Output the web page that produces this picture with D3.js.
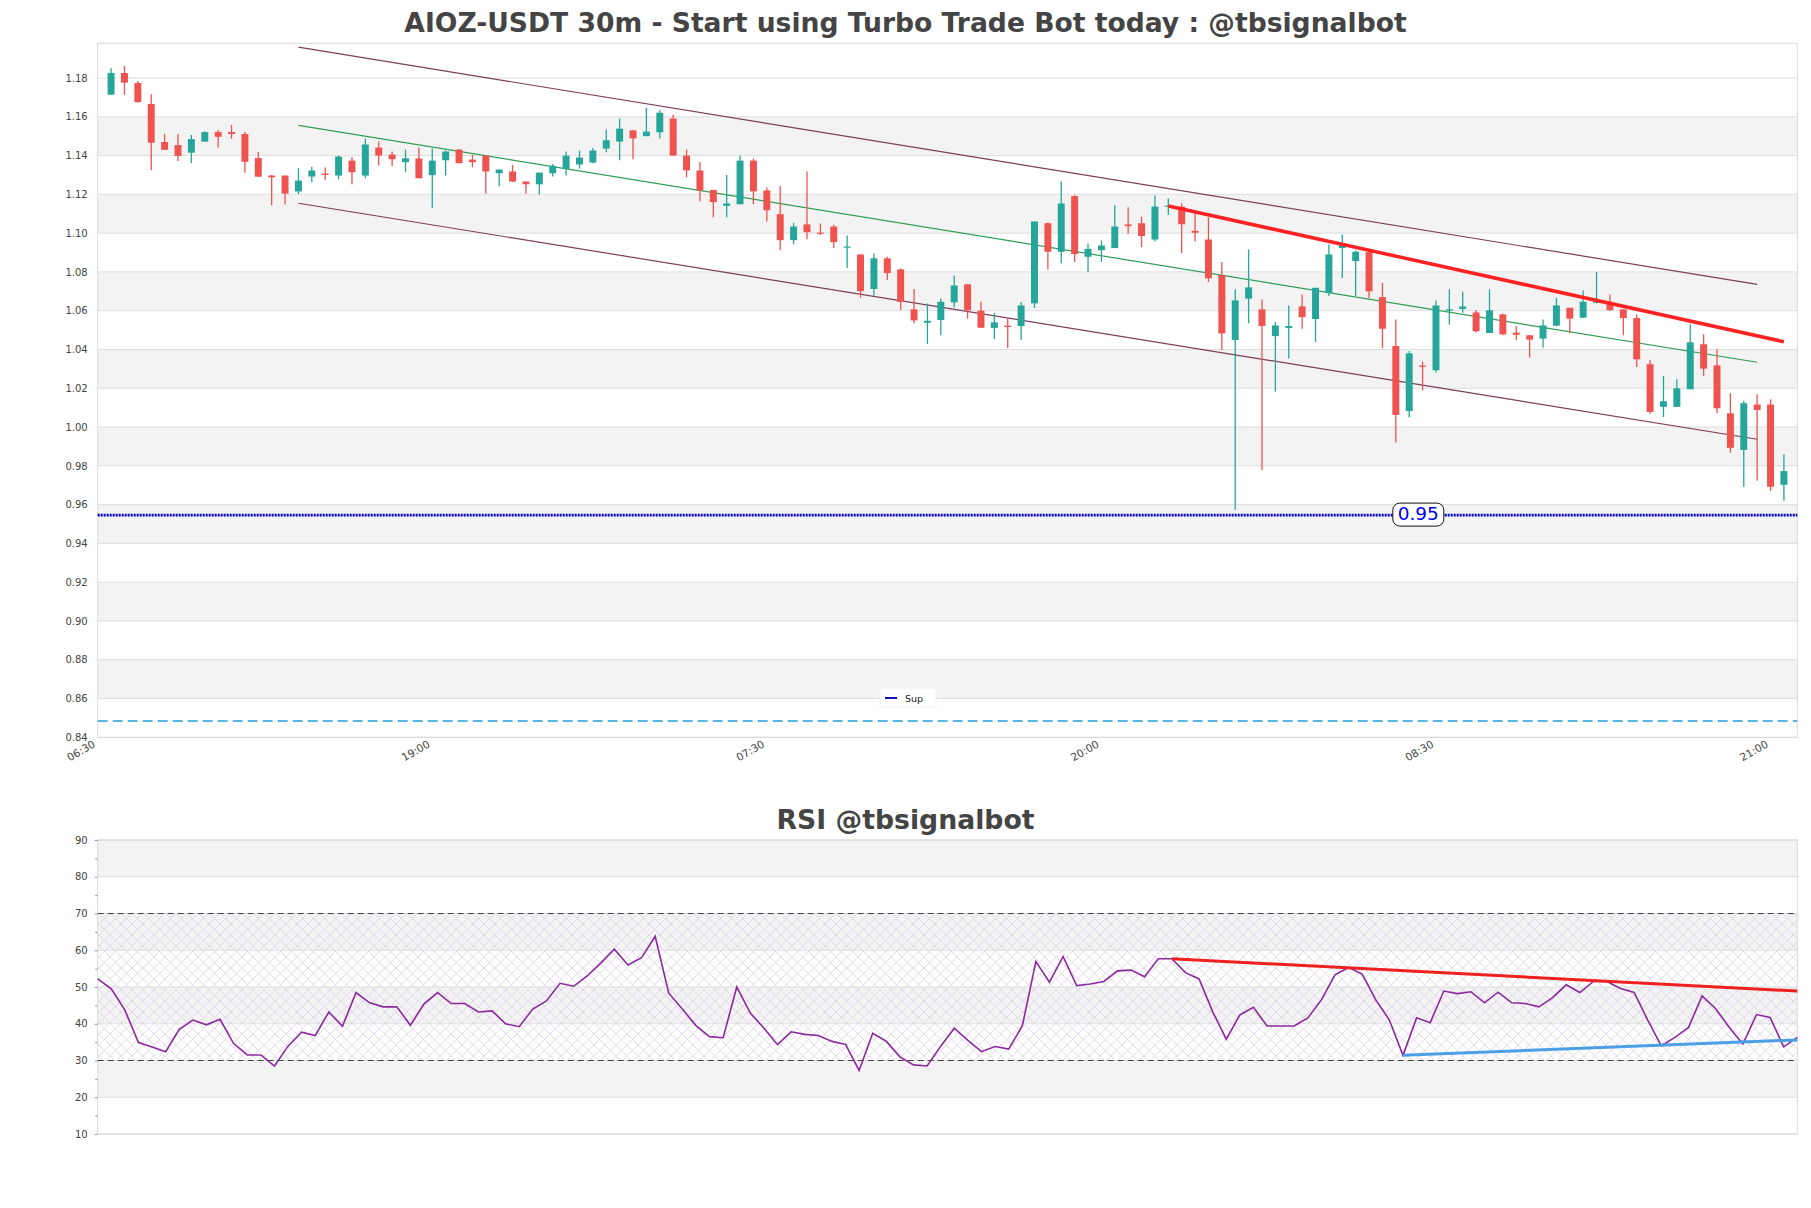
<!DOCTYPE html>
<html><head><meta charset="utf-8">
<script src="https://cdn.jsdelivr.net/npm/d3@7"></script>
<style>body{margin:0;background:#fff;} text{font-family:"DejaVu Sans",sans-serif;}</style>
</head><body><svg id="c" width="1811" height="1208"></svg>
<script>
// ---------- DATA ----------
const opens  = [1.1714,1.1826,1.1774,1.1666,1.147,1.1454,1.1415,1.1472,1.1521,1.1521,1.1511,1.1387,1.1297,1.1297,1.1215,1.1292,1.1307,1.1297,1.1374,1.1297,1.1441,1.1405,1.1366,1.1385,1.1299,1.1376,1.1431,1.1379,1.14,1.1309,1.1318,1.1266,1.1252,1.1309,1.1331,1.1354,1.1364,1.1436,1.1472,1.153,1.15,1.152,1.1591,1.14,1.1323,1.1223,1.1141,1.1149,1.1374,1.122,1.1098,1.0964,1.1045,1.1003,1.1034,1.0926,1.089,1.0712,1.087,1.0813,1.0607,1.0538,1.0552,1.0643,1.0736,1.06,1.0511,1.0523,1.0521,1.0638,1.1051,1.0904,1.1191,1.0878,1.0912,1.0923,1.1045,1.1051,1.0967,1.1136,1.1136,1.1012,1.0967,1.0784,1.0449,1.0662,1.0607,1.0469,1.0511,1.0622,1.0557,1.0691,1.0923,1.0856,1.0902,1.067,1.0418,1.0083,1.0317,1.0293,1.06,1.0609,1.0591,1.0485,1.0581,1.0487,1.0473,1.0456,1.0523,1.0615,1.0564,1.0641,1.0646,1.0607,1.0562,1.0324,1.0104,1.0104,1.0195,1.0427,1.0318,1.0071,0.9882,1.0116,1.0116,0.9702];
const highs  = [1.185,1.1862,1.1785,1.1716,1.1511,1.1511,1.1506,1.1525,1.1532,1.1558,1.1523,1.1418,1.130,1.1297,1.1335,1.1343,1.1338,1.14,1.1393,1.1488,1.1472,1.1421,1.1431,1.1441,1.1436,1.1426,1.1434,1.1405,1.14,1.1328,1.1352,1.1266,1.1312,1.1357,1.1421,1.1426,1.1439,1.1534,1.1591,1.153,1.1647,1.1635,1.1611,1.1431,1.1367,1.1223,1.13,1.14,1.1385,1.1235,1.1242,1.1053,1.1318,1.105,1.1043,1.0988,1.089,1.0895,1.0878,1.0818,1.0712,1.0637,1.0663,1.0782,1.0736,1.0646,1.059,1.0564,1.0645,1.106,1.1055,1.1266,1.1197,1.0947,1.0962,1.1144,1.1134,1.1086,1.1194,1.1179,1.1153,1.1106,1.1082,1.0851,1.071,1.0916,1.0658,1.0542,1.0627,1.0684,1.0718,1.0942,1.0993,1.0911,1.0916,1.0744,1.0555,1.0392,1.0337,1.0653,1.071,1.0698,1.0603,1.071,1.0586,1.0521,1.0476,1.0555,1.0667,1.0615,1.0706,1.08,1.0684,1.0607,1.0579,1.0346,1.0264,1.0246,1.053,1.0478,1.0401,1.0174,1.0135,1.0169,1.0143,0.986];
const lows   = [1.1714,1.1714,1.1673,1.1325,1.143,1.1372,1.1361,1.1472,1.1441,1.1487,1.1312,1.1291,1.1144,1.1148,1.1201,1.1263,1.1273,1.1278,1.1252,1.1283,1.1349,1.1345,1.1314,1.1283,1.1129,1.1297,1.1361,1.134,1.1204,1.1242,1.1263,1.1204,1.1199,1.1292,1.1297,1.1333,1.1361,1.1417,1.1376,1.1381,1.15,1.1488,1.14,1.1288,1.1165,1.1082,1.1082,1.1149,1.1149,1.106,1.0912,1.0943,1.0969,1.099,1.0923,1.082,1.0667,1.0677,1.0758,1.0603,1.0535,1.0428,1.0473,1.0617,1.0559,1.0512,1.0454,1.0408,1.0449,1.0614,1.0813,1.0845,1.0851,1.0799,1.0851,1.0923,1.0997,1.0928,1.0957,1.1093,1.0897,1.0957,1.0748,1.0397,0.9573,1.0535,0.9779,1.0183,1.0354,1.0507,1.0439,1.0676,1.0768,1.0676,1.0665,1.0408,0.992,1.0049,1.0188,1.0281,1.0528,1.059,1.0487,1.0485,1.0473,1.0449,1.0358,1.0409,1.0519,1.0482,1.0564,1.0638,1.0598,1.0473,1.031,1.0068,1.0051,1.0104,1.0195,1.0264,1.0071,0.9867,0.9692,0.9723,0.9671,0.962];
const closes = [1.1826,1.1776,1.1676,1.1466,1.143,1.1398,1.1485,1.1521,1.1497,1.1511,1.1368,1.1291,1.1288,1.1204,1.1271,1.1323,1.130,1.1395,1.1314,1.1457,1.14,1.1381,1.1386,1.1283,1.1374,1.1421,1.1361,1.1366,1.1318,1.1328,1.1266,1.1252,1.1312,1.1347,1.14,1.139,1.1426,1.1479,1.1539,1.1489,1.1524,1.1621,1.14,1.1324,1.1221,1.116,1.1153,1.1374,1.1215,1.1118,1.0964,1.1034,1.1005,1.0997,1.0954,1.0931,1.0701,1.087,1.0794,1.0645,1.055,1.0548,1.0646,1.073,1.0602,1.0512,1.054,1.0516,1.0627,1.106,1.0904,1.1153,1.0892,1.0919,1.0936,1.1034,1.1036,1.0985,1.1137,1.1142,1.1046,1.1002,1.0767,1.0483,1.0653,1.072,1.0521,1.0524,1.0521,1.0567,1.0718,1.089,1.0947,1.0904,1.07,1.0507,1.0063,1.038,1.0312,1.0627,1.0607,1.0622,1.0494,1.0602,1.0478,1.0476,1.0451,1.0524,1.0627,1.0559,1.0646,1.0655,1.0603,1.0562,1.0349,1.0078,1.0133,1.02,1.0437,1.0301,1.0097,0.9893,1.0123,1.0088,0.9692,0.9773];
const rsiValues = [52.2,49.5,43.7,34.9,33.7,32.4,38.5,41.0,39.7,41.2,34.6,31.5,31.5,28.5,33.9,37.7,36.8,43.2,39.3,48.5,45.7,44.6,44.6,39.6,45.4,48.5,45.5,45.5,43.2,43.5,40.0,39.2,44.0,46.2,51.0,50.2,53.0,56.5,60.3,56.0,58.0,63.8,48.3,44.0,39.5,36.5,36.2,50.0,42.9,38.8,34.3,37.8,37.1,36.8,35.2,34.4,27.3,37.4,35.2,31.0,28.8,28.5,33.9,38.8,35.5,32.4,33.8,33.1,39.4,56.9,51.3,58.3,50.4,50.8,51.5,54.4,54.6,52.8,57.7,57.7,53.9,52.2,43.3,35.8,42.4,44.5,39.4,39.4,39.4,41.6,46.5,53.3,55.3,53.5,46.5,41.0,31.4,41.6,40.3,48.9,48.2,48.7,45.7,48.6,45.7,45.5,44.6,47.1,50.6,48.5,51.5,51.5,49.6,48.5,41.0,34.0,36.3,39.0,47.6,44.1,39.0,34.5,42.5,41.7,33.7,36.3];
const timeLabels = ["06:30","19:00","07:30","20:00","08:30","21:00"];
const timeTickIdx = [-1,24,49,74,99,124];
const priceTicks = [0.84,0.86,0.88,0.90,0.92,0.94,0.96,0.98,1.00,1.02,1.04,1.06,1.08,1.10,1.12,1.14,1.16,1.18];
const rsiTicks = [10,20,30,40,50,60,70,80,90];
const rsiMinorTicks = [15,25,35,45,55,65,75,85];
const channelIdx = [14,123];
const channelUpper = [1.1959,1.0736];
const channelMid = [1.1556,1.0334];
const channelLower = [1.1154,0.9937];
const resistIdx = [79,125];
const resistVal = [1.114,1.044];
const supportVal = 0.9546;
const supportLabel = "0.95";
const lowerLevel = 0.8484;
const rsiResIdx = [79,125];
const rsiResVal = [57.7,48.9];
const rsiSupIdx = [96,125];
const rsiSupVal = [31.4,35.6];
const titleMain = "AIOZ-USDT 30m - Start using Turbo Trade Bot today : @tbsignalbot";
const titleRsi = "RSI @tbsignalbot";

// ---------- LAYOUT ----------
const M = {l:97.7, r:1797.3, t:43.3, b:737.3};
const R = {t:840, b:1134};
const svg = d3.select("#c");
const x = d3.scaleLinear().domain([-1,126]).range([M.l,M.r]);
const y = d3.scaleLinear().domain([0.84,1.1979]).range([M.b,M.t]);
const xr = d3.scaleLinear().domain([0,125]).range([M.l,M.r]);
const yr = d3.scaleLinear().domain([10,90]).range([R.b,R.t]);
const UP="#26a69a", DN="#ef5350";

svg.append("rect").attr("width",1811).attr("height",1208).attr("fill","#fff");

// titles
svg.append("text").attr("x",905.5).attr("y",32).attr("text-anchor","middle")
  .attr("font-size",26.6).attr("font-weight","bold").attr("fill","#444").text(titleMain);
svg.append("text").attr("x",905.5).attr("y",829).attr("text-anchor","middle")
  .attr("font-size",26.7).attr("font-weight","bold").attr("fill","#444").text(titleRsi);

// ---------- MAIN PANEL ----------
const g = svg.append("g");
for (let k=1;k<priceTicks.length-1;k+=2){
  g.append("rect").attr("x",M.l).attr("width",M.r-M.l)
   .attr("y",y(priceTicks[k+1])).attr("height",y(priceTicks[k])-y(priceTicks[k+1])).attr("fill","#f3f3f3");
}
g.selectAll("line.grid").data(priceTicks).join("line").attr("class","grid")
  .attr("x1",M.l).attr("x2",M.r).attr("y1",d=>y(d)).attr("y2",d=>y(d))
  .attr("stroke","#dedede").attr("stroke-width",1);
g.append("rect").attr("x",M.l).attr("y",M.t).attr("width",M.r-M.l).attr("height",M.b-M.t)
  .attr("fill","none").attr("stroke","#dadada").attr("stroke-width",1);

const ya = g.append("g").attr("transform",`translate(${M.l},0)`)
  .call(d3.axisLeft(y).tickValues(priceTicks).tickFormat(d3.format(".2f")).tickSize(0).tickPadding(10));
ya.select(".domain").remove();
ya.selectAll("text").attr("font-size",10).attr("fill","#444").attr("font-family","DejaVu Sans");

const xa = g.append("g").attr("transform",`translate(0,${M.b})`)
  .call(d3.axisBottom(x).tickValues(timeTickIdx).tickFormat((d,i)=>timeLabels[i]).tickSize(0));
xa.select(".domain").remove();
xa.selectAll("text").attr("font-size",10.6).attr("fill","#444").attr("font-family","DejaVu Sans")
  .attr("text-anchor","end").attr("dy",0).attr("x",-2).attr("y",9)
  .attr("transform","rotate(-30 -2 9)");

// lower dashed level
g.append("line").attr("x1",M.l).attr("x2",M.r).attr("y1",y(lowerLevel)).attr("y2",y(lowerLevel))
  .attr("stroke","#22a0d6").attr("stroke-width",1.3).attr("stroke-dasharray","10,5");

// channel lines
const chan = [[channelUpper,"#7d3d5c"],[channelMid,"#2f9e55"],[channelLower,"#7d3d5c"]];
chan.forEach(([v,c])=>{
  g.append("line").attr("x1",x(channelIdx[0])).attr("x2",x(channelIdx[1]))
   .attr("y1",y(v[0])).attr("y2",y(v[1])).attr("stroke",c).attr("stroke-width",1.2);
});

// candles
const idx = d3.range(opens.length);
g.selectAll("line.wick").data(idx).join("line").attr("class","wick")
  .attr("x1",i=>x(i)).attr("x2",i=>x(i)).attr("y1",i=>y(highs[i])).attr("y2",i=>y(lows[i]))
  .attr("stroke",i=>closes[i]>=opens[i]?UP:DN).attr("stroke-width",1.3);
const bw = (x(1)-x(0))*0.52;
g.selectAll("rect.body").data(idx).join("rect").attr("class","body")
  .attr("x",i=>x(i)-bw/2).attr("width",bw)
  .attr("y",i=>y(Math.max(opens[i],closes[i])))
  .attr("height",i=>Math.max(1.2,Math.abs(y(opens[i])-y(closes[i]))))
  .attr("fill",i=>closes[i]>=opens[i]?UP:DN);

// resistance
g.append("line").attr("x1",x(resistIdx[0])).attr("x2",x(resistIdx[1]))
  .attr("y1",y(resistVal[0])).attr("y2",y(resistVal[1])).attr("stroke","#ff2222").attr("stroke-width",3.5);

// support
g.append("line").attr("x1",M.l).attr("x2",M.r).attr("y1",y(supportVal)).attr("y2",y(supportVal))
  .attr("stroke","#0000cc").attr("stroke-width",2.6).attr("stroke-dasharray","2,1");
const lx = x(97.68), ly = y(supportVal);
g.append("rect").attr("x",lx-25.5).attr("y",ly-12).attr("width",51).attr("height",23).attr("rx",7)
  .attr("fill","#fff").attr("stroke","#111").attr("stroke-width",1);
g.append("text").attr("x",lx).attr("y",ly+5).attr("text-anchor","middle").attr("font-size",18.5)
  .attr("fill","#0000f0").text(supportLabel);

// legend
g.append("rect").attr("x",880).attr("y",688).attr("width",56).attr("height",19).attr("fill","#fff").attr("stroke","#f0f0f0");
g.append("line").attr("x1",885).attr("x2",897).attr("y1",698).attr("y2",698).attr("stroke","#1414b4").attr("stroke-width",2);
g.append("text").attr("x",905).attr("y",701.5).attr("font-size",9.5).attr("fill","#222").text("Sup");

// ---------- RSI PANEL ----------
const r = svg.append("g");
const defs = svg.append("defs");
const pat = defs.append("pattern").attr("id","hatch").attr("patternUnits","userSpaceOnUse")
  .attr("width",11).attr("height",11);
pat.append("path").attr("d","M0,0L11,11M11,0L0,11").attr("stroke","#d6c2e2").attr("stroke-width",0.6).attr("fill","none");

for (let k=1;k<rsiTicks.length-1;k+=2){
  r.append("rect").attr("x",M.l).attr("width",M.r-M.l)
   .attr("y",yr(rsiTicks[k+1])).attr("height",yr(rsiTicks[k])-yr(rsiTicks[k+1])).attr("fill","#f3f3f3");
}
r.append("rect").attr("x",M.l).attr("width",M.r-M.l).attr("y",yr(70)).attr("height",yr(30)-yr(70))
  .attr("fill","url(#hatch)");
r.selectAll("line.grid").data(rsiTicks).join("line").attr("class","grid")
  .attr("x1",M.l).attr("x2",M.r).attr("y1",d=>yr(d)).attr("y2",d=>yr(d))
  .attr("stroke","#dedede").attr("stroke-width",1);
r.append("rect").attr("x",M.l).attr("y",R.t).attr("width",M.r-M.l).attr("height",R.b-R.t)
  .attr("fill","none").attr("stroke","#dadada").attr("stroke-width",1);

const ra = r.append("g").attr("transform",`translate(${M.l},0)`)
  .call(d3.axisLeft(yr).tickValues(rsiTicks).tickSize(3).tickPadding(7));
ra.select(".domain").remove();
ra.selectAll("line").attr("stroke","#999");
ra.selectAll("text").attr("font-size",10).attr("fill","#444").attr("font-family","DejaVu Sans");
const rm = r.append("g").attr("transform",`translate(${M.l},0)`)
  .call(d3.axisLeft(yr).tickValues(rsiMinorTicks).tickSize(2.5).tickFormat(""));
rm.select(".domain").remove();
rm.selectAll("line").attr("stroke","#999");

[70,30].forEach(v=>{
  r.append("line").attr("x1",M.l).attr("x2",M.r).attr("y1",yr(v)).attr("y2",yr(v))
   .attr("stroke","#444").attr("stroke-width",1.2).attr("stroke-dasharray","6,4");
});

r.append("path").datum(rsiValues)
  .attr("d",d3.line().x((d,i)=>xr(i)).y(d=>yr(d)))
  .attr("fill","none").attr("stroke","#8a2a9c").attr("stroke-width",1.6);

r.append("line").attr("x1",xr(rsiResIdx[0])).attr("x2",xr(rsiResIdx[1]))
  .attr("y1",yr(rsiResVal[0])).attr("y2",yr(rsiResVal[1])).attr("stroke","#ef2020").attr("stroke-width",3);
r.append("line").attr("x1",xr(rsiSupIdx[0])).attr("x2",xr(rsiSupIdx[1]))
  .attr("y1",yr(rsiSupVal[0])).attr("y2",yr(rsiSupVal[1])).attr("stroke","#4a9fe6").attr("stroke-width",3);
</script></body></html>
